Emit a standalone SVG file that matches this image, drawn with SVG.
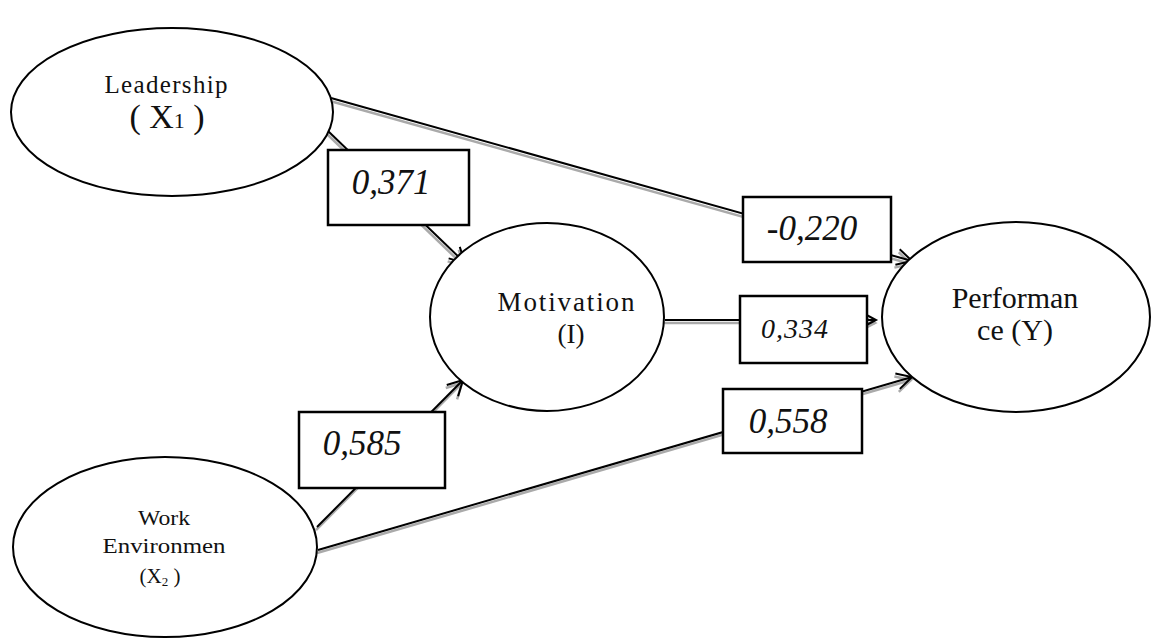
<svg xmlns="http://www.w3.org/2000/svg" width="1151" height="639" viewBox="0 0 1151 639">
<style>
.node{fill:#fff;stroke:#000;stroke-width:2}
.ln{stroke:#000;stroke-width:2;fill:none}
.sh{stroke:#aaa;stroke-width:2.5;fill:none}
.box{fill:#fff;stroke:#000;stroke-width:2.5}
.lbl{font-family:"Liberation Serif",serif;font-style:italic;fill:#111;text-anchor:middle}
.t{font-family:"Liberation Serif",serif;fill:#111;text-anchor:middle}
</style>
<defs>
<marker id="ah" markerUnits="userSpaceOnUse" markerWidth="20" markerHeight="20" refX="16" refY="8" orient="auto" overflow="visible">
<path d="M1,0 L16,8 L1,16" fill="none" stroke="#000" stroke-width="2"/>
</marker>
<marker id="ahs" markerUnits="userSpaceOnUse" markerWidth="20" markerHeight="20" refX="16" refY="8" orient="auto" overflow="visible">
<path d="M1,0 L16,8 L1,16" fill="none" stroke="#aaa" stroke-width="2.5"/>
</marker>
</defs>
<g id="connectors">
<g transform="translate(-1,3)">
<line class="sh" x1="331" y1="98" x2="912" y2="261" marker-end="url(#ahs)"/>
<line class="sh" x1="328" y1="131" x2="465" y2="263" marker-end="url(#ahs)"/>
<line class="sh" x1="317" y1="527" x2="463" y2="380" marker-end="url(#ahs)"/>
<line class="sh" x1="318" y1="550" x2="912" y2="377" marker-end="url(#ahs)"/>
<line class="sh" x1="665" y1="320" x2="876" y2="320" marker-end="url(#ahs)"/>
</g>
<line class="ln" x1="331" y1="98" x2="912" y2="261" marker-end="url(#ah)"/>
<line class="ln" x1="328" y1="131" x2="465" y2="263" marker-end="url(#ah)"/>
<line class="ln" x1="317" y1="527" x2="463" y2="380" marker-end="url(#ah)"/>
<line class="ln" x1="318" y1="550" x2="912" y2="377" marker-end="url(#ah)"/>
<line class="ln" x1="665" y1="320" x2="876" y2="320" marker-end="url(#ah)"/>
<g id="lbl-371"><rect class="box" x="328" y="150" width="141" height="75"/><text class="lbl" x="391" y="194" font-size="35">0,371</text></g>
<g id="lbl-220"><rect class="box" x="743" y="197" width="148" height="65"/><text class="lbl" x="812" y="240" font-size="35">-0,220</text></g>
<g id="lbl-334"><rect class="box" x="740" y="296" width="127" height="67"/><text class="lbl" x="795" y="338" font-size="28" letter-spacing="1">0,334</text></g>
<g id="lbl-585"><rect class="box" x="299" y="412" width="146" height="76"/><text class="lbl" x="362" y="455" font-size="35">0,585</text></g>
<g id="lbl-558"><rect class="box" x="723" y="389" width="139" height="64"/><text class="lbl" x="788" y="433" font-size="35">0,558</text></g>
</g>
<g id="leadership">
<ellipse class="node" cx="172" cy="112" rx="161" ry="84"/>
<text class="t" x="166" y="93" font-size="25" textLength="123" lengthAdjust="spacing">Leadership</text>
<text class="t" x="167" y="128" font-size="34">( X<tspan font-size="22">1</tspan> )</text>
</g>
<g id="work-environment">
<ellipse class="node" cx="165" cy="547" rx="152" ry="90"/>
<text class="t" x="164" y="525" font-size="21" textLength="52" lengthAdjust="spacingAndGlyphs">Work</text>
<text class="t" x="164" y="553" font-size="21" textLength="123" lengthAdjust="spacingAndGlyphs">Environmen</text>
<text class="t" x="160" y="583" font-size="21">(X<tspan font-size="13" dy="3">2</tspan><tspan dy="-3"> )</tspan></text>
</g>
<g id="motivation">
<ellipse class="node" cx="547" cy="317" rx="117" ry="94"/>
<text class="t" x="566" y="311" font-size="27" textLength="137" lengthAdjust="spacing">Motivation</text>
<text class="t" x="571" y="343" font-size="27">(I)</text>
</g>
<g id="performance">
<ellipse class="node" cx="1016" cy="317" rx="134" ry="95"/>
<text class="t" x="1015" y="308" font-size="30">Performan</text>
<text class="t" x="1015" y="340" font-size="30">ce (Y)</text>
</g>
</svg>
